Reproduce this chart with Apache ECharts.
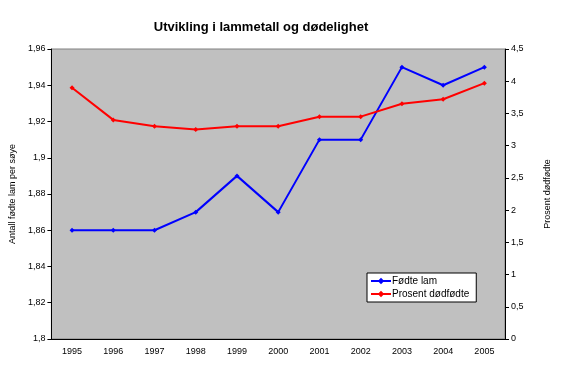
<!DOCTYPE html>
<html>
<head>
<meta charset="utf-8">
<script src="https://cdn.jsdelivr.net/npm/echarts@6/dist/echarts.min.js"></script>
<style>html,body{margin:0;padding:0;background:#fff}#c{width:567px;height:368px}</style>
</head>
<body>
<div id="c"></div>
<script>
var years = ['1995','1996','1997','1998','1999','2000','2001','2002','2003','2004','2005'];
var fodteLam = [1.86, 1.86, 1.86, 1.87, 1.89, 1.87, 1.91, 1.91, 1.95, 1.94, 1.95];
var prosentDodfodte = [3.9, 3.4, 3.3, 3.25, 3.3, 3.3, 3.45, 3.45, 3.65, 3.72, 3.97];
var leftTicks = {min: 1.8, max: 1.96, interval: 0.02};
var rightTicks = {min: 0, max: 4.5, interval: 0.5};

var font = 'Liberation Sans, Arial, sans-serif';
function fmt(v){ return String(Math.round(v*1000)/1000).replace('.', ','); }
var chart = echarts.init(document.getElementById('c'), null, {renderer:'canvas'});
chart.setOption({
  animation: false,
  backgroundColor: '#ffffff',
  title: {
    text: 'Utvikling i lammetall og dødelighet',
    left: 256, top: 16, textAlign: 'center',
    textStyle: {fontFamily: font, fontSize: 13, fontWeight: 'bold', color: '#000'}
  },
  legend: {
    left: 367, top: 273, orient: 'vertical',
    backgroundColor: '#fff', borderColor: '#000', borderWidth: 1,
    padding: [3, 7, 3, 3], itemGap: 3, itemWidth: 20, itemHeight: 8,
    textStyle: {fontFamily: font, fontSize: 10, color: '#000', padding:[0,0,0,-4]},
    data: ['Fødte lam', 'Prosent dødfødte']
  },
  grid: {left: 51, right: 62, top: 49, bottom: 29, show: true, backgroundColor: '#c0c0c0', borderColor: '#808080', borderWidth: 1},
  xAxis: {
    type: 'category', data: years, boundaryGap: true,
    axisLine: {lineStyle: {color: '#000'}},
    axisTick: {inside: true, length: 4, lineStyle: {color: '#000'}},
    axisLabel: {fontFamily: font, fontSize: 9, color: '#000', margin: 8},
    splitLine: {show: false}
  },
  yAxis: [{
    type: 'value', min: leftTicks.min, max: leftTicks.max, interval: leftTicks.interval,
    name: 'Antall fødte lam per søye', nameLocation: 'middle', nameGap: 30,
    nameTextStyle: {fontFamily: font, fontSize: 9, color: '#000'},
    axisLine: {show: true, lineStyle: {color: '#000'}},
    axisTick: {show: true, length: 4, lineStyle: {color: '#000'}},
    axisLabel: {fontFamily: font, fontSize: 9, color: '#000', formatter: fmt, margin: 6},
    splitLine: {show: false}
  }, {
    type: 'value', min: rightTicks.min, max: rightTicks.max, interval: rightTicks.interval,
    position: 'right',
    name: 'Prosent dødfødte', nameLocation: 'middle', nameGap: 38,
    nameRotate: 90,
    nameTextStyle: {fontFamily: font, fontSize: 9, color: '#000'},
    axisLine: {show: true, lineStyle: {color: '#000'}},
    axisTick: {show: true, length: 4, lineStyle: {color: '#000'}},
    axisLabel: {fontFamily: font, fontSize: 9, color: '#000', formatter: fmt, margin: 6},
    splitLine: {show: false}
  }],
  series: [{
    name: 'Fødte lam', type: 'line', yAxisIndex: 0, data: fodteLam,
    color: '#0000ff', symbol: 'diamond', symbolSize: 5,
    lineStyle: {width: 2, color: '#0000ff'}, itemStyle: {color: '#0000ff'}
  }, {
    name: 'Prosent dødfødte', type: 'line', yAxisIndex: 1, data: prosentDodfodte,
    color: '#ff0000', symbol: 'diamond', symbolSize: 5,
    lineStyle: {width: 2, color: '#ff0000'}, itemStyle: {color: '#ff0000'}
  }]
});
</script>
</body>
</html>
